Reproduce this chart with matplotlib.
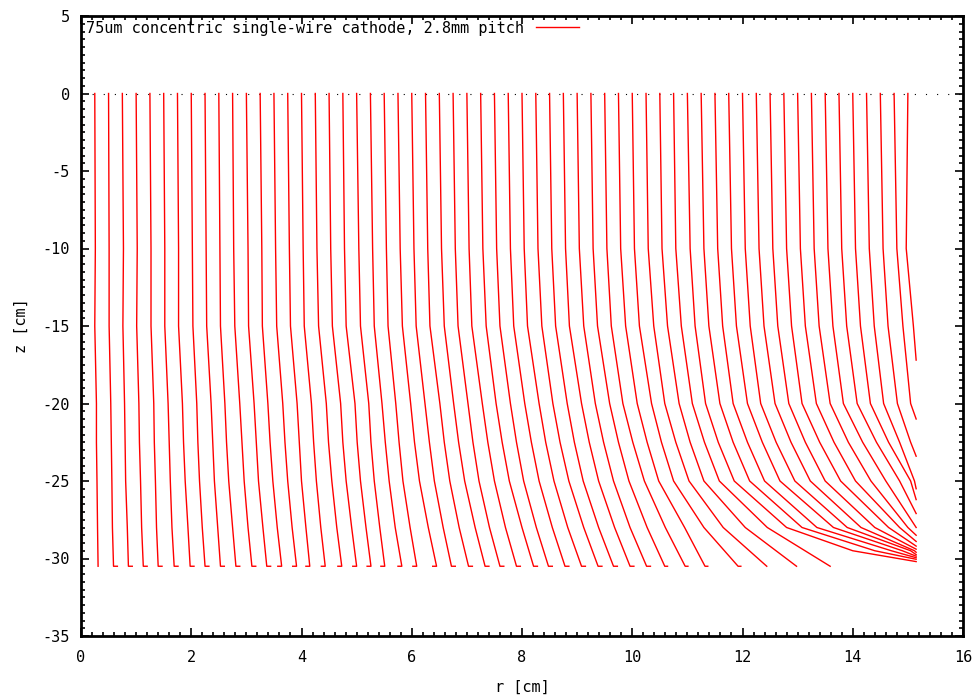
import numpy as np
import matplotlib
matplotlib.use("Agg")
import matplotlib.pyplot as plt
from matplotlib.ticker import MultipleLocator

# drift line start radii at z = 0 [cm]
r_start = [0.0, 0.25, 0.5, 0.75, 1.0, 1.25, 1.5, 1.75, 2.0, 2.25, 2.5, 2.75,
           3.0, 3.25, 3.5, 3.75, 4.0, 4.25, 4.5, 4.75, 5.0, 5.25, 5.5, 5.75,
           6.0, 6.25, 6.5, 6.75, 7.0, 7.25, 7.5, 7.75, 8.0, 8.25, 8.5, 8.75,
           9.0, 9.25, 9.5, 9.75, 10.0, 10.25, 10.5, 10.75, 11.0, 11.25, 11.5,
           11.75, 12.0, 12.25, 12.5, 12.75, 13.0, 13.25, 13.5, 13.75, 14.0,
           14.25, 14.5, 14.75, 15.0]

# radius read at z = -10 cm
r_z10 = [0.0, 0.26, 0.51, 0.77, 1.02, 1.27, 1.52, 1.77, 2.02, 2.27, 2.52, 2.77,
         3.03, 3.28, 3.53, 3.78, 4.03, 4.28, 4.53, 4.78, 5.04, 5.29, 5.54, 5.79,
         6.04, 6.29, 6.54, 6.79, 7.04, 7.29, 7.54, 7.79, 8.04, 8.29, 8.54, 8.79,
         9.04, 9.29, 9.54, 9.79, 10.04, 10.29, 10.54, 10.79, 11.05, 11.30, 11.55,
         11.80, 12.05, 12.30, 12.55, 12.80, 13.05, 13.30, 13.55, 13.80, 14.05,
         14.30, 14.55, 14.80, 14.97]

# radius read at z = -15 cm
r_z15 = [0.0, 0.25, 0.51, 0.76, 1.01, 1.27, 1.52, 1.77, 2.03, 2.28, 2.53, 2.79,
         3.04, 3.29, 3.55, 3.80, 4.05, 4.31, 4.56, 4.81, 5.07, 5.32, 5.57, 5.83,
         6.08, 6.33, 6.59, 6.84, 7.09, 7.35, 7.60, 7.85, 8.10, 8.36, 8.61, 8.86,
         9.12, 9.37, 9.62, 9.88, 10.13, 10.39, 10.64, 10.89, 11.14, 11.39, 11.64,
         11.89, 12.14, 12.39, 12.64, 12.89, 13.14, 13.39, 13.64, 13.89, 14.14,
         14.39, 14.64, 14.91, 15.10]

# radius read at z = -20 cm
r_z20 = [0.0, 0.28, 0.54, 0.79, 1.05, 1.32, 1.58, 1.84, 2.10, 2.36, 2.61, 2.88,
         3.14, 3.39, 3.66, 3.92, 4.18, 4.45, 4.71, 4.97, 5.22, 5.46, 5.71, 5.98,
         6.24, 6.51, 6.76, 7.02, 7.28, 7.53, 7.79, 8.05, 8.31, 8.56, 8.82, 9.08,
         9.33, 9.59, 9.83, 10.09, 10.35, 10.59, 10.85, 11.09, 11.33, 11.59, 11.83,
         12.09, 12.33, 12.59, 12.84, 13.08, 13.34, 13.59, 13.83, 14.08, 14.32,
         14.56, 14.81, 15.05, np.nan]

# radius read at z = -22.5 cm
r_z225 = [0.0, 0.28, 0.55, 0.80, 1.06, 1.33, 1.60, 1.86, 2.12, 2.39, 2.64, 2.92,
          3.18, 3.43, 3.70, 3.96, 4.22, 4.49, 4.75, 5.01, 5.26, 5.52, 5.77, 6.05,
          6.32, 6.59, 6.85, 7.11, 7.38, 7.64, 7.90, 8.17, 8.43, 8.69, 8.95, 9.22,
          9.48, 9.75, 10.01, 10.27, 10.53, 10.79, 11.05, 11.31, 11.56, 11.83, 12.09,
          12.36, 12.61, 12.88, 13.14, 13.40, 13.66, 13.92, 14.18, 14.43, 14.65,
          14.85, 15.05, np.nan, np.nan]

# radius read at z = -25 cm
r_z25 = [0.0, 0.29, 0.56, 0.81, 1.08, 1.35, 1.62, 1.89, 2.15, 2.42, 2.68, 2.96,
         3.22, 3.48, 3.75, 4.00, 4.27, 4.55, 4.81, 5.07, 5.32, 5.59, 5.84, 6.14,
         6.41, 6.69, 6.96, 7.22, 7.50, 7.77, 8.03, 8.31, 8.58, 8.85, 9.11, 9.39,
         9.66, 9.94, 10.22, 10.48, 10.75, 11.03, 11.30, 11.58, 11.85, 12.13, 12.40,
         12.68, 12.95, 13.23, 13.50, 13.78, 14.05, 14.33, 14.60, 14.85, 15.05,
         15.12, np.nan, np.nan, np.nan]

# radius read at z = -28 cm
r_z28 = [0.0, 0.30, 0.57, 0.84, 1.10, 1.37, 1.65, 1.94, 2.20, 2.48, 2.75, 3.03,
         3.30, 3.56, 3.83, 4.08, 4.35, 4.64, 4.91, 5.17, 5.42, 5.70, 5.97, 6.30,
         6.57, 6.86, 7.15, 7.41, 7.70, 8.00, 8.26, 8.55, 8.83, 9.12, 9.39, 9.68,
         9.96, 10.27, 10.60, 10.95, 11.30, 11.65, 12.05, 12.45, 12.80, 13.08, 13.35,
         13.65, 13.90, 14.15, 14.40, 14.65, 14.85, 15.00, 15.12, np.nan, np.nan,
         np.nan, np.nan, np.nan, np.nan]

# radius read at z = -29.5 cm
r_z295 = [np.nan] * 44 + [14.00, 14.40, 14.70, 14.90, 15.05, 15.12] + [np.nan] * 11

# end point of each line
r_end = [0.0, 0.31, 0.59, 0.86, 1.13, 1.40, 1.69, 1.98, 2.25, 2.53, 2.81, 3.10,
         3.37, 3.64, 3.91, 4.15, 4.43, 4.73, 5.00, 5.26, 5.51, 5.82, 6.09, 6.45,
         6.72, 7.03, 7.33, 7.60, 7.90, 8.21, 8.48, 8.78, 9.08, 9.38, 9.66, 9.96,
         10.26, 10.59, 10.96, 11.32, 11.92, 12.44, 12.98, 13.59, 15.15, 15.15,
         15.15, 15.15, 15.15, 15.15, 15.15, 15.15, 15.15, 15.15, 15.15, 15.15,
         15.15, 15.15, 15.15, 15.15, 15.15]
z_end = [-30.5] * 44 + [-30.2, -30.05, -29.95, -29.85, -29.75, -29.6, -29.4,
                        -29.2, -28.9, -28.5, -28.0, -27.1, -26.2, -25.5, -23.4,
                        -21.0, -17.2]

# short horizontal foot where a line meets the cathode plane [cm]
foot_dr = [0.0, 0.0, 0.07, 0.07, 0.07, 0.07, 0.07, 0.07, 0.07, 0.07, 0.07,
           0.07, 0.07, -0.07, -0.07, -0.07, -0.07, -0.07, -0.07, -0.07, -0.07,
           -0.07, -0.07, -0.07, 0.07, 0.07, 0.07, 0.07, 0.07, 0.07, 0.07, 0.07,
           0.07, 0.07, 0.07, 0.07, 0.07, 0.05, 0.05, 0.05, 0.05, 0.0, 0.0,
           0.0] + [0.0] * 17

z_levels = [0.0, -10.0, -15.0, -20.0, -22.5, -25.0, -28.0, -29.5]
label = "75um concentric single-wire cathode, 2.8mm pitch"

plt.rcParams['font.family'] = ['DejaVu Sans Mono']
plt.rcParams['axes.unicode_minus'] = False
fig = plt.figure(figsize=(9.77, 6.98), dpi=100)
ax = fig.add_axes([81 / 977, 1 - 636 / 698, 882 / 977, 620 / 698])

ax.axhline(0, color='black', lw=0.8, linestyle=(0, (1, 9)), zorder=1)

for i in range(len(r_start)):
    rr = [r_start[i], r_z10[i], r_z15[i], r_z20[i], r_z225[i], r_z25[i],
          r_z28[i], r_z295[i]]
    pts = [(r, z) for r, z in zip(rr, z_levels) if not np.isnan(r) and z > z_end[i]]
    pts.append((r_end[i], z_end[i]))
    if foot_dr[i] != 0.0:
        pts.append((r_end[i] + foot_dr[i], z_end[i]))
    ax.plot([p[0] for p in pts], [p[1] for p in pts], color='#ff0000',
            lw=1.0, zorder=2, label=label if i == 0 else None)

ax.set_xlim(0, 16)
ax.set_ylim(-35, 5)
ax.xaxis.set_major_locator(MultipleLocator(2))
ax.xaxis.set_minor_locator(MultipleLocator(0.2))
ax.yaxis.set_major_locator(MultipleLocator(5))
ax.yaxis.set_minor_locator(MultipleLocator(0.5))
ax.tick_params(which='both', direction='in', top=True, right=True,
               labelsize=11, width=1.2)
ax.tick_params(axis='x', pad=10)
ax.tick_params(axis='y', pad=8)
ax.tick_params(which='major', length=6)
ax.tick_params(which='minor', length=3)
for s in ax.spines.values():
    s.set_linewidth(2)

ax.set_xlabel('r [cm]', fontsize=11, labelpad=11)
ax.set_ylabel('z [cm]', fontsize=11, labelpad=10)

ax.legend(loc='upper left', frameon=False, fontsize=11, handlelength=2.8,
          markerfirst=False, borderaxespad=0.1, borderpad=0.2,
          handletextpad=0.8)

fig.savefig('out.png', dpi=100)
